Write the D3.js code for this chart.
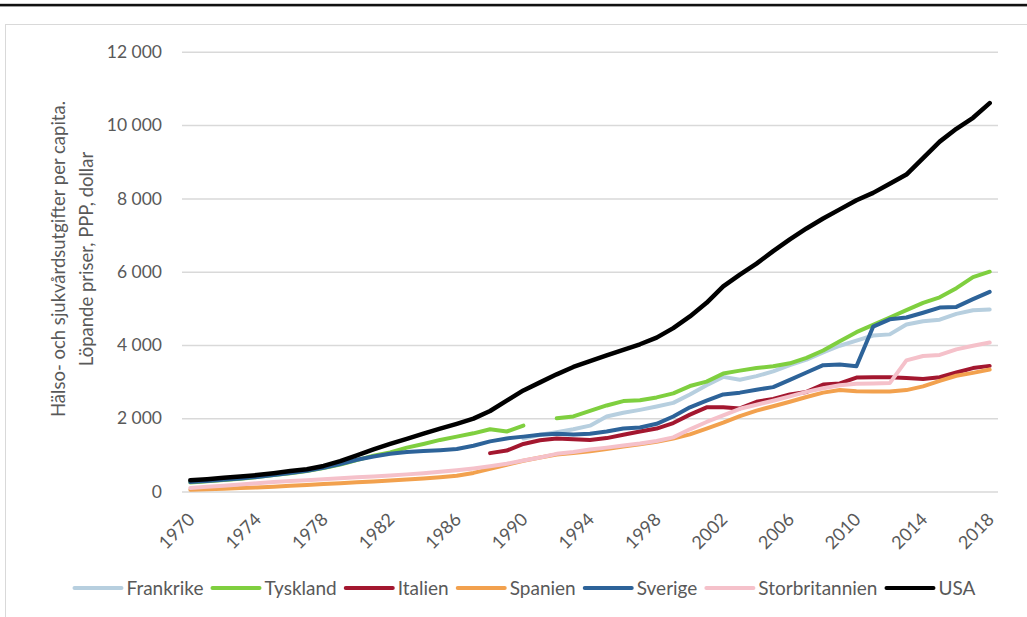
<!DOCTYPE html>
<html>
<head>
<meta charset="utf-8">
<script src="https://cdn.jsdelivr.net/npm/d3@7/dist/d3.min.js"></script>
<style>
  html, body { margin: 0; padding: 0; background: #ffffff; }
  svg { display: block; }
  text { font-family: Lato, "Open Sans", sans-serif; fill: #595959; }
</style>
</head>
<body>
<svg id="chart" width="1027" height="617"></svg>
<script>
const years = d3.range(1970, 2019);
const yTicks = [0, 2000, 4000, 6000, 8000, 10000, 12000];
const xTickYears = [1970, 1974, 1978, 1982, 1986, 1990, 1994, 1998, 2002, 2006, 2010, 2014, 2018];
const seriesNames = ["Frankrike", "Tyskland", "Italien", "Spanien", "Sverige", "Storbritannien", "USA"];
const seriesColors = ["#b7cfdf", "#7fcf3f", "#a3172f", "#f2a14e", "#2d6399", "#f5c1ca", "#000000"];

const N = null;
// values 1970..2018
const frankrike = [N,N,N,N,N,N,N,N,N,N, N,N,N,N,N,N,N,N,N,N,
  1450,1550,1620,1700,1800,2050,2150,2230,2320,2420,
  2650,2900,3130,3050,3150,3280,3450,3600,3800,3980,
  4120,4260,4290,4560,4650,4690,4850,4950,4970];
const tyskland = [250,280,315,350,395,450,500,560,640,740,
  860,980,1070,1200,1300,1410,1500,1590,1700,1640,
  1800,N,2000,2050,2200,2350,2470,2490,2570,2680,
  2880,3000,3220,3300,3370,3420,3500,3650,3850,4100,
  4350,4550,4750,4950,5150,5300,5550,5850,6000];
const italien = [N,N,N,N,N,N,N,N,N,N, N,N,N,N,N,N,N,N,
  1050,1120,1300,1400,1450,1430,1410,1460,1550,1640,1720,1870,
  2100,2300,2300,2270,2450,2530,2650,2720,2920,2950,
  3110,3120,3120,3100,3070,3120,3250,3370,3430];
const spanien = [50,65,80,100,115,135,160,180,205,230,
  255,275,300,330,360,390,430,510,620,730,
  840,930,1010,1050,1100,1160,1230,1290,1360,1450,
  1560,1720,1880,2060,2210,2330,2450,2580,2700,2770,
  2740,2730,2730,2770,2870,3020,3160,3240,3330];
const sverige = [260,290,320,355,400,450,510,570,650,750,
  870,960,1030,1080,1110,1130,1160,1250,1370,1450,
  1500,1550,1580,1560,1580,1640,1720,1750,1850,2050,
  2300,2480,2650,2700,2780,2850,3050,3250,3450,3470,
  3420,4500,4700,4750,4880,5020,5040,5250,5450];
const storbritannien = [100,130,160,195,230,265,290,310,335,365,
  390,410,440,470,500,540,580,630,690,760,
  850,930,1030,1080,1150,1200,1260,1310,1380,1480,
  1700,1900,2080,2260,2370,2480,2600,2720,2820,2900,
  2940,2950,2960,3580,3700,3730,3880,3980,4070];
const usa = [310,340,375,410,450,500,560,610,700,830,
  990,1150,1300,1440,1580,1720,1850,1990,2200,2480,
  2760,2980,3200,3400,3560,3720,3870,4020,4200,4460,
  4780,5150,5600,5920,6220,6560,6880,7180,7450,7700,
  7950,8150,8400,8650,9100,9550,9900,10200,10600];

const seriesValues = [frankrike, tyskland, italien, spanien, sverige, storbritannien, usa];

const svg = d3.select("#chart");

// frame
svg.append("rect").attr("x", 0).attr("y", 3.8).attr("width", 1027).attr("height", 2.6).attr("fill", "#111");
svg.append("rect").attr("x", 5.5).attr("y", 24.5).attr("width", 1030).attr("height", 600)
  .attr("fill", "none").attr("stroke", "#d9d9d9").attr("stroke-width", 1);

const x = d3.scaleLinear().domain([1969.5, 2018.5]).range([182, 998]);
const y = d3.scaleLinear().domain([0, 12000]).range([491.6, 51.8]);

// gridlines + y labels
const yAxis = d3.axisLeft(y).tickValues(yTicks).tickSize(-(998 - 182)).tickPadding(20);
const gy = svg.append("g").attr("transform", "translate(182,0)").call(yAxis);
gy.select(".domain").remove();
gy.selectAll(".tick line").attr("stroke", "#d9d9d9").attr("stroke-width", 1.5);
gy.selectAll(".tick text").attr("font-size", 17.5).attr("fill", "#595959")
  .attr("font-family", "Lato, 'Open Sans', sans-serif")
  .text(d => d === 0 ? "0" : d3.format(",")(d).replace(/,/g, " "));

// x labels
const xAxis = d3.axisBottom(x).tickValues(xTickYears).tickSize(0).tickFormat(d3.format("d"));
const gx = svg.append("g").attr("transform", "translate(0,491.6)").call(xAxis);
gx.select(".domain").remove();
gx.selectAll(".tick text")
  .attr("font-size", 18).attr("fill", "#595959")
  .attr("font-family", "Lato, 'Open Sans', sans-serif")
  .attr("text-anchor", "end").attr("dy", null).attr("y", 0)
  .attr("transform", "translate(5,29) rotate(-45)");

// lines
const line = d3.line().defined(d => d.v != null).x(d => x(d.year)).y(d => y(d.v));
seriesNames.forEach((name, i) => {
  const data = years.map((yr, j) => ({year: yr, v: seriesValues[i][j]}));
  svg.append("path").datum(data)
    .attr("d", line)
    .attr("fill", "none")
    .attr("stroke", seriesColors[i])
    .attr("stroke-width", name === "USA" ? 4.5 : 4)
    .attr("stroke-linejoin", "round")
    .attr("stroke-linecap", "round");
});

// y-axis title
const title = svg.append("text")
  .attr("transform", "translate(73,259) rotate(-90)")
  .attr("text-anchor", "middle").attr("font-size", 18.5).attr("fill", "#595959");
title.append("tspan").attr("x", 0).attr("dy", "-0.45em").text("Hälso- och sjukvårdsutgifter per capita.");
title.append("tspan").attr("x", 0).attr("dy", "1.55em").text("Löpande priser, PPP, dollar");

// legend
const legend = svg.append("g");
const items = legend.selectAll("g").data(seriesNames).join("g");
items.append("line").attr("x1", 0).attr("x2", 47).attr("y1", 0).attr("y2", 0)
  .attr("stroke", (d, i) => seriesColors[i]).attr("stroke-width", 4).attr("stroke-linecap", "round");
items.append("text").attr("x", 52).attr("y", 0).attr("dy", "0.35em")
  .attr("font-size", 19).text(d => d);
let cx = 0;
items.each(function() {
  const w = this.getBBox().width;
  d3.select(this).attr("transform", `translate(${cx},0)`);
  cx += w + 9;
});
const total = cx - 9;
legend.attr("transform", `translate(${525 - total / 2},588)`);
</script>
</body>
</html>
